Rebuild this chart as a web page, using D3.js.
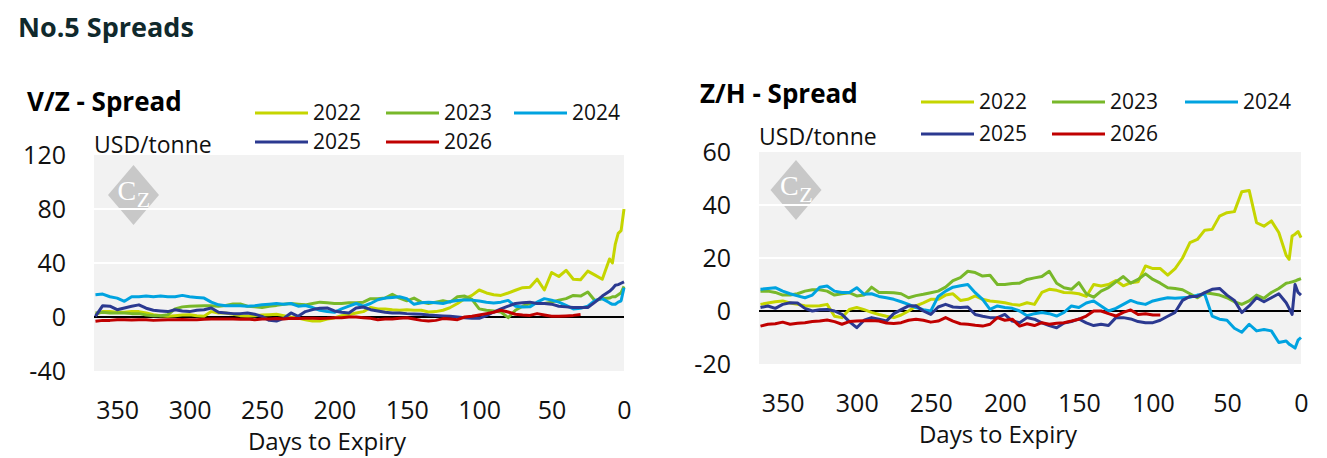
<!DOCTYPE html>
<html lang="en">
  <head>
    <meta charset="UTF-8" />
    <title>No.5 Spreads</title>
    <script src="https://d3js.org/d3.v7.min.js"></script>
    <style>
      body {
        margin: 0;
        background: #fff;
        font-family: "Open Sans", Arial, sans-serif;
      }
      .tick text {
        fill: #111;
        font-family: "Open Sans", Arial, sans-serif;
      }
    </style>
  </head>
  <body>
    <svg id="chart" width="1327" height="458"></svg>

    <script>
      // days to expiry (shared x categories)
      const days = [
        365, 360, 355, 350, 345, 340, 335, 330, 325, 320,
        315, 310, 305, 300, 295, 290, 285, 280, 275, 270,
        265, 260, 255, 250, 245, 240, 235, 230, 225, 220,
        215, 210, 205, 200, 195, 190, 185, 180, 175, 170,
        165, 160, 155, 150, 145, 140, 135, 130, 125, 120,
        115, 110, 105, 100, 95, 90, 85, 80, 75, 70,
        65, 60, 55, 50, 45, 40, 35, 30, 25, 20,
        15, 10, 8, 6, 4, 2, 0,
      ];

      const years = ["2022", "2023", "2024", "2025", "2026"];
      const colors = ["#c5d500", "#78b82a", "#00a3e0", "#2b3990", "#c00000"];

      const xTicks = [350, 300, 250, 200, 150, 100, 50, 0];
      const vzTicks = [-40, 0, 40, 80, 120];
      const zhTicks = [-20, 0, 20, 40, 60];

      // V/Z spread, USD/tonne
      const vz2022 = [
        1.7, 4, 4, 3.5, 3.5, 4, 4, 3, 1.7, 1,
        0.5, 1, 1.5, 1.7, 1, 0.5, 4, 3, 3, 2,
        1, 0.5, 1, 1.5, 1.7, 2, 1, 0, -0.7, -2,
        -3, -3, -1.5, -0.7, 1, 1.7, 3, 4, 7, 6,
        6, 5.4, 5, 5.4, 5, 5, 3.7, 4, 5, 7,
        10, 13.6, 16, 20, 17.8, 16.5, 16, 17.8, 19.8, 21.7,
        22, 28, 20, 33, 30, 34.6, 28, 27.6, 34, 31,
        28, 43, 40, 54, 62, 64, 80,
      ];
      const vz2023 = [
        3, 3.5, 3, 3, 3, 2.5, 2.5, 1.5, 1, 1,
        1.7, 6, 7.5, 8, 8.2, 8.4, 8.4, 8, 8.5, 9.6,
        9.6, 8, 7.5, 7, 8, 8.6, 9.5, 10, 9.5, 9,
        10, 11, 10.5, 10, 10, 10.6, 10.6, 11, 13.6, 13.6,
        14, 16.8, 14, 12, 14, 11, 10, 11, 12, 11,
        15, 15.5, 13, 6, 5, 4.5, 3.7, -0.5, 5, 8,
        10, 10, 10, 11, 12.5, 13.6, 16, 15.5, 18.5, 12,
        13.6, 14, 15, 15, 16.5, 18, 22.7,
      ];
      const vz2024 = [
        16.5, 17, 15, 14, 11.6, 15, 15, 15.5, 15, 15.5,
        15, 15, 16, 15, 14.5, 14, 11, 9, 8.4, 8.4,
        8.4, 8, 8.4, 9, 9.5, 10, 9.5, 10, 8, 8.5,
        7, 5, 4, 3.5, 6, 8, 10, 8, 10, 12.8,
        14, 14.5, 15, 13.6, 9.4, 10.5, 11, 10.5, 10, 11.5,
        12.3, 12.8, 12.5, 11.8, 11, 10.4, 11, 12.3, 8, 7.4,
        7.5, 11, 13.6, 12.5, 11, 8.6, 6, 6.5, 8, 12.3,
        13.6, 10.5, 9.4, 9.4, 11, 12, 21.7,
      ];
      const vz2025 = [
        0.5, 8.4, 8, 5.4, 6.7, 8, 9, 6.5, 5, 4.5,
        4, 5.4, 4.5, 4, 5, 5.4, 6.7, 3.5, 3, 2.5,
        2.5, 3, 2, 0.5, -2.5, -3, -1, 3, 0.5, 4,
        5.5, 6.5, 6.7, 4.5, 3.5, 3, 6.7, 7.4, 5.4, 4.5,
        3.5, 3, 3, 2.5, 2.2, 2, 1.5, 1.2, 0.8, 0.5,
        0, -0.5, -1, -1, 1, 3.7, 6, 8, 10, 10.5,
        11, 10, 10, 9.5, 8, 7.5, 7, 7, 7, 11,
        15.5, 19, 21, 23.5, 24, 25, 26,
      ];
      const vz2026 = [
        -3.2, -2.5, -2.5, -2, -2, -2.2, -2, -2, -2.5, -2.2,
        -2, -2, -1.8, -2, -2, -1.7, -1.5, -1.5, -1.5, -1.5,
        -1.7, -1.5, -2, -1.5, -1.5, -1.2, -1.5, -1, -1.2, -1,
        -1, -1.2, -1, -0.5, -0.5, 0, 0, -0.5, -1, -2,
        -1.5, -1.5, -1, -0.5, -1.5, -2.5, -3, -2.5, -1.2, -1.5,
        -2, 0, 0.5, 1.5, 2.5, 3.5, 5, 3.7, 2, 1.5,
        1.2, 2.5, 1.5, 0.5, 0.5, 0.8, 1.2, 1.8, null, null,
        null, null, null, null, null, null, null,
      ];

      // Z/H spread, USD/tonne
      const zh2022 = [
        2.5, 3, 3.5, 3.8, 3, 2.5, 2, 1.9, 2, 2.5,
        -2, -2.5, 0.6, 1.3, 0.5, -0.5, -1.3, -2, -2.5, -1.5,
        0, 1.9, 3.1, 4.4, 4.4, 6, 6.5, 4, 4.4, 5.7,
        4.4, 3.8, 3.5, 3.1, 2.5, 2.2, 3.1, 2.5, 7, 8.2,
        7.8, 7, 6.9, 6.5, 5.5, 10, 9.4, 10, 11.5, 9.5,
        10.7, 11, 17, 16, 16, 13.5, 16, 20, 25.8, 27,
        30.5, 30.8, 35.8, 37.1, 37.5, 45, 45.5, 33.3, 32, 34,
        29.6, 21, 19.5, 28.3, 29, 30, 27.7,
      ];
      const zh2023 = [
        7.5, 7.5, 7, 6, 6, 6.5, 7.5, 8, 8, 7.5,
        6, 6.5, 6.9, 5.7, 6, 9, 7, 7, 6.9, 6.5,
        5, 5.8, 6.3, 6.9, 7.5, 9, 11.5, 12.6, 15, 14.5,
        13.2, 13.5, 10, 10, 10.4, 10.5, 11.9, 12.5, 13, 15,
        10.5, 8.8, 8.2, 10.7, 6.5, 5.2, 7.5, 8.8, 11, 13,
        10.5, 11.9, 14, 11.9, 10.5, 8.8, 8.5, 8, 6.5, 5,
        6.9, 6.5, 6, 5, 3.5, 2.5, 3.8, 6, 4.8, 7,
        8.5, 10.5, 10.7, 11, 11.3, 11.8, 12.2,
      ];
      const zh2024 = [
        8.2, 8.5, 8.8, 7.5, 6.5, 5.7, 5, 6, 9, 9.4,
        7.5, 7, 7, 8.8, 6.3, 6.5, 5.5, 5, 4.4, 3.5,
        2.5, 1.3, 0.5, 0, 5.5, 7.5, 9, 9.5, 10, 6.9,
        4.4, 0.6, 1.9, 1.3, 1, 0, -1.8, -1, -0.6, -1,
        -1.9, -0.5, 1.9, 1.3, 3, 3.8, 1.9, 0, 1, 2.5,
        4, 3, 2.5, 3.8, 4.4, 5, 4.8, 5, 5.2, 6,
        6.3, -1.9, -3.1, -3.5, -6.5, -8, -5, -7.5, -7, -7.5,
        -11.9, -11.3, -12.5, -13.2, -14, -11, -10,
      ];
      const zh2025 = [
        1.3, 1.9, 1, 2.5, 3.1, 3, 1, 0, 0.5, 0.6,
        0, -1.3, -4, -6.3, -3.5, -2.5, -3.1, -3.8, -1, 0.5,
        1.9, 2, 0, -1.3, 1.5, 2.5, 1.5, 1.3, 1.5, -1.3,
        -2, -2.5, -2.5, -1.3, -3.8, -4.4, -2.5, -3.1, -4.5, -5.5,
        -6.3, -4.5, -4, -3, -4.5, -5.5, -5, -5.5, -2.5, -2.5,
        -3, -4, -4.4, -4.4, -3.5, -2, -0.5, 4, 5.5, 5.5,
        6.9, 8.2, 8.5, 6, 4, -0.6, 1.9, 5, 3.5, 5,
        6.5, 3.1, 1, -1.3, 10, 7, 6,
      ];
      const zh2026 = [
        -5.7, -5, -4.8, -4.2, -5, -4.6, -4.4, -4, -3.8, -3.4,
        -4, -5, -4, -3.8, -3.7, -3.6, -3.8, -4.5, -4.7, -4.4,
        -3.5, -3.1, -3.5, -4.2, -3.8, -2.5, -3.8, -4.8, -5, -5.4,
        -5.7, -5, -2.5, -3.5, -3.1, -5.7, -4.8, -5.5, -4.4, -5,
        -4.6, -4.4, -3.8, -3.1, -1.9, 0, 0, -1, -1.9, -0.5,
        0.4, -1.3, -1, -1.5, -1.5, null, null, null, null, null,
        null, null, null, null, null, null, null, null, null, null,
        null, null, null, null, null, null, null,
      ];

      const svg = d3.select("#chart");

      svg
        .append("text")
        .attr("x", 18)
        .attr("y", 37)
        .attr("font-size", 27)
        .attr("font-weight", "bold")
        .attr("fill", "#10292c")
        .text("No.5 Spreads");

      function drawPanel(cfg) {
        const x = d3.scaleLinear().domain([366, 0]).range([cfg.left, cfg.right]);
        const y = d3.scaleLinear().domain(cfg.yDomain).range([cfg.bottom, cfg.top]);
        const g = svg.append("g");

        g.append("text")
          .attr("x", cfg.titleX)
          .attr("y", cfg.titleY)
          .attr("font-size", 26)
          .attr("font-weight", "bold")
          .attr("fill", "#000")
          .text(cfg.title);

        g.append("text")
          .attr("x", cfg.left)
          .attr("y", cfg.unitY)
          .attr("font-size", 23)
          .attr("fill", "#111")
          .text("USD/tonne");

        // plot background
        g.append("rect")
          .attr("x", cfg.left)
          .attr("y", cfg.top)
          .attr("width", cfg.right - cfg.left)
          .attr("height", cfg.bottom - cfg.top)
          .attr("fill", "#f2f2f2");

        // CZ watermark, Z set lower than C
        const logo = g.append("g").attr("transform", `translate(${cfg.logo[0]},${cfg.logo[1]})`);
        logo.append("path").attr("d", "M0,-30L25.5,0L0,30L-25.5,0Z").attr("fill", "#c8c8c8");
        const mark = logo
          .append("text")
          .attr("x", -16)
          .attr("y", 5)
          .attr("font-family", "'Liberation Serif', serif")
          .attr("fill", "#fff");
        mark.append("tspan").attr("font-size", 28).text("C");
        mark.append("tspan").attr("font-size", 22).attr("dx", 0.5).attr("dy", 7).text("Z");

        // gridlines
        g.append("g")
          .selectAll("line")
          .data(cfg.yTicks.filter((t) => t !== 0 && t !== cfg.yDomain[0] && t !== cfg.yDomain[1]))
          .join("line")
          .attr("x1", cfg.left)
          .attr("x2", cfg.right)
          .attr("y1", (d) => y(d))
          .attr("y2", (d) => y(d))
          .attr("stroke", "#fff")
          .attr("stroke-width", 2);

        g.append("line")
          .attr("x1", cfg.left)
          .attr("x2", cfg.right)
          .attr("y1", y(0))
          .attr("y2", y(0))
          .attr("stroke", "#000")
          .attr("stroke-width", 2);

        // axes
        const yAxis = g
          .append("g")
          .attr("transform", `translate(${cfg.left},0)`)
          .call(
            d3
              .axisLeft(y)
              .tickValues(cfg.yTicks)
              .tickFormat((d) => String(d))
              .tickSize(0)
              .tickPadding(cfg.yPad)
          );
        yAxis.select(".domain").remove();
        yAxis.selectAll("text").attr("font-size", 25);

        const xAxis = g
          .append("g")
          .attr("transform", `translate(0,${cfg.bottom})`)
          .call(d3.axisBottom(x).tickValues(xTicks).tickFormat((d) => String(d)).tickSize(0).tickPadding(30));
        xAxis.select(".domain").remove();
        xAxis.selectAll("text").attr("font-size", 25);

        g.append("text")
          .attr("x", cfg.xTitleX)
          .attr("y", cfg.bottom + 79)
          .attr("text-anchor", "middle")
          .attr("font-size", 24)
          .attr("fill", "#111")
          .text("Days to Expiry");

        // series
        const line = d3
          .line()
          .defined((d) => d[1] != null)
          .x((d) => x(d[0]))
          .y((d) => y(d[1]));

        cfg.series.forEach((vals, i) => {
          g.append("path")
            .datum(days.map((d, j) => [d, vals[j]]))
            .attr("fill", "none")
            .attr("stroke", colors[i])
            .attr("stroke-width", 3)
            .attr("stroke-linejoin", "round")
            .attr("d", line);
        });

        // legend
        const leg = g
          .append("g")
          .selectAll("g")
          .data(years)
          .join("g")
          .attr("transform", (d, i) => `translate(${cfg.legX[i % 3]},${cfg.legY[Math.floor(i / 3)]})`);
        leg.append("line")
          .attr("x1", 0)
          .attr("x2", 53)
          .attr("stroke", (d, i) => colors[i])
          .attr("stroke-width", 3);
        leg.append("text")
          .attr("x", 58)
          .attr("dy", "0.35em")
          .attr("font-size", 21)
          .attr("fill", "#111")
          .text((d) => d);
      }

      drawPanel({
        title: "V/Z - Spread",
        titleX: 27,
        titleY: 111,
        unitY: 153,
        left: 94,
        right: 624,
        top: 155,
        bottom: 371,
        yDomain: [-40, 120],
        yTicks: vzTicks,
        yPad: 28,
        xTitleX: 327,
        logo: [133.5, 195],
        legX: [255, 386, 514],
        legY: [113, 142],
        series: [vz2022, vz2023, vz2024, vz2025, vz2026],
      });

      drawPanel({
        title: "Z/H - Spread",
        titleX: 700,
        titleY: 103,
        unitY: 145,
        left: 759,
        right: 1301,
        top: 152,
        bottom: 364,
        yDomain: [-20, 60],
        yTicks: zhTicks,
        yPad: 28,
        xTitleX: 998,
        logo: [796, 190],
        legX: [921, 1052, 1185],
        legY: [102, 134],
        series: [zh2022, zh2023, zh2024, zh2025, zh2026],
      });
    </script>
  </body>
</html>
